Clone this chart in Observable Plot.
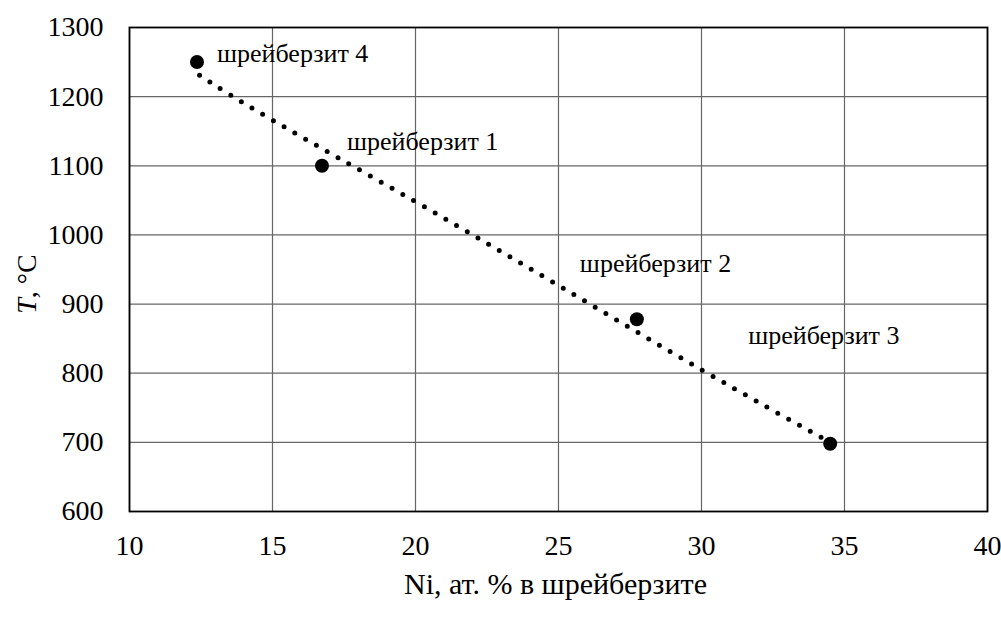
<!DOCTYPE html>
<html>
<head>
<meta charset="utf-8">
<script src="https://cdn.jsdelivr.net/npm/d3@7"></script>
<script src="https://cdn.jsdelivr.net/npm/@observablehq/plot@0.6"></script>
<style>
  html, body { margin: 0; padding: 0; background: #fff; }
  #chart svg { display: block; }
  #chart svg text { font-family: "Liberation Serif", "Times New Roman", serif !important; }
</style>
</head>
<body>
<div id="chart"></div>
<script>
// Data points (Ni at.% in schreibersite, temperature °C)
const names = ["шрейберзит 4", "шрейберзит 1", "шрейберзит 2", "шрейберзит 3"];
const ni = [12.36, 16.73, 27.74, 34.5];
const temp = [1250, 1100, 878, 698];

// Dotted trend line
const trendNi = [12.45, 15, 20, 25, 30, 34.5];
const trendT = [1231, 1166, 1048, 927, 805, 700];

// Axis ticks
const xTicks = [10, 15, 20, 25, 30, 35, 40];
const yTicks = [600, 700, 800, 900, 1000, 1100, 1200, 1300];

const points = names.map((n, i) => ({name: n, x: ni[i], y: temp[i]}));
const trend = trendNi.map((x, i) => ({x, y: trendT[i]}));

// label offsets (pixels) relative to each point
const labelOffsets = [[20, -8], [25, -24], [-57, -56], [-82, -108]];

const font = "Liberation Serif";

const chart = Plot.plot({
  width: 1001,
  height: 618,
  marginLeft: 129,
  marginRight: 14,
  marginTop: 27,
  marginBottom: 107,
  style: {fontFamily: font, fontSize: "28px", color: "#000", background: "#fff"},
  x: {domain: [10, 40]},
  y: {domain: [600, 1300]},
  marks: [
    Plot.gridX(xTicks, {stroke: "#666", strokeOpacity: 1, strokeWidth: 1.2}),
    Plot.gridY(yTicks, {stroke: "#666", strokeOpacity: 1, strokeWidth: 1.2}),
    Plot.frame({stroke: "#000", strokeWidth: 1.8}),
    Plot.axisX(xTicks, {tickSize: 0, tickPadding: 24, fontSize: 28, label: null,
      tickFormat: d => String(d), fontFamily: font}),
    Plot.axisY(yTicks, {tickSize: 0, tickPadding: 26, fontSize: 28, label: null,
      tickFormat: d => String(d), fontFamily: font}),
    Plot.line(trend, {x: "x", y: "y", curve: "natural", stroke: "#000",
      strokeWidth: 5, strokeDasharray: "0,12.4", strokeLinecap: "round"}),
    Plot.dot(points, {x: "x", y: "y", r: 7, fill: "#000", stroke: "none"}),
    ...points.map((p, i) => Plot.text([p], {x: "x", y: "y", text: "name",
      textAnchor: "start", lineAnchor: "middle", fontSize: 26, fontFamily: font,
      dx: labelOffsets[i][0], dy: labelOffsets[i][1], fill: "#000"})),
    Plot.text(["Ni, ат. % в шрейберзите"], {frameAnchor: "bottom", dx: -3, dy: 73,
      lineAnchor: "middle", fontSize: 30, fontFamily: font, fill: "#000"})
  ]
});

document.getElementById("chart").appendChild(chart);

// Y axis title with italic T
const svg = d3.select(chart);
const t = svg.append("text")
  .attr("transform", "translate(36,284) rotate(-90)")
  .attr("text-anchor", "middle")
  .attr("font-family", font)
  .attr("font-size", 28)
  .attr("fill", "#000");
t.append("tspan").attr("font-style", "italic").text("T");
t.append("tspan").text(", °C");
</script>
</body>
</html>
